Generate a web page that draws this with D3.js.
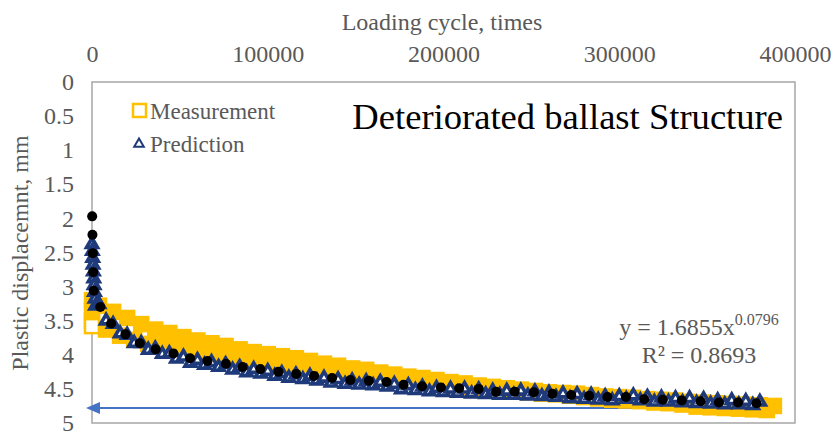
<!DOCTYPE html>
<html><head><meta charset="utf-8">
<script src="https://cdn.jsdelivr.net/npm/d3@7"></script>
<style>body{margin:0;background:#fff}svg{display:block}</style>
</head><body>
<svg id="chart" width="833" height="435"></svg>
<script>
// ---------- data ----------
const cycleTicks = [0, 100000, 200000, 300000, 400000];
const dispTicks = [0, 0.5, 1, 1.5, 2, 2.5, 3, 3.5, 4, 4.5, 5];

const measCycles = [0, 0, 0, 0,
  4000, 8000, 12000, 16000, 20000, 24000, 28000, 32000, 36000, 40000,
  44000, 48000, 52000, 56000, 60000, 64000, 68000, 72000, 76000, 80000,
  84000, 88000, 92000, 96000, 100000, 104000, 108000, 112000, 116000, 120000,
  124000, 128000, 132000, 136000, 140000, 144000, 148000, 152000, 156000, 160000,
  164000, 168000, 172000, 176000, 180000, 184000, 188000, 192000, 196000, 200000,
  204000, 208000, 212000, 216000, 220000, 224000, 228000, 232000, 236000, 240000,
  244000, 248000, 252000, 256000, 260000, 264000, 268000, 272000, 276000, 280000,
  284000, 288000, 292000, 296000, 300000, 304000, 308000, 312000, 316000, 320000,
  324000, 328000, 332000, 336000, 340000, 344000, 348000, 352000, 356000, 360000,
  364000, 368000, 372000, 376000, 380000, 384000, 388000];
const measValues = [3.20, 3.35, 3.50, 3.58,
  3.28, 3.63, 3.37, 3.72, 3.46, 3.78, 3.55, 3.84, 3.63, 3.87,
  3.68, 3.91, 3.74, 3.95, 3.79, 3.99, 3.83, 4.02, 3.87, 4.05,
  3.92, 4.08, 3.96, 4.10, 3.99, 4.13, 4.02, 4.16, 4.05, 4.18,
  4.09, 4.21, 4.13, 4.24, 4.16, 4.27, 4.20, 4.29, 4.22, 4.32,
  4.26, 4.35, 4.29, 4.37, 4.32, 4.38, 4.34, 4.40, 4.37, 4.43,
  4.40, 4.45, 4.42, 4.47, 4.45, 4.49, 4.47, 4.52, 4.49, 4.54,
  4.51, 4.55, 4.53, 4.57, 4.55, 4.58, 4.56, 4.60, 4.57, 4.62,
  4.59, 4.64, 4.61, 4.66, 4.62, 4.67, 4.63, 4.68, 4.65, 4.70,
  4.66, 4.71, 4.67, 4.73, 4.69, 4.76, 4.70, 4.77, 4.71, 4.78,
  4.72, 4.79, 4.73, 4.80, 4.74, 4.81, 4.75];

const predCycles = [0, 200, 400, 600, 800, 1000, 1200, 1400, 1700, 2000,
  4000, 8000, 12000, 16000, 20000, 24000, 28000, 32000, 36000, 40000,
  44000, 48000, 52000, 56000, 60000, 64000, 68000, 72000, 76000, 80000,
  84000, 88000, 92000, 96000, 100000, 104000, 108000, 112000, 116000, 120000,
  124000, 128000, 132000, 136000, 140000, 144000, 148000, 152000, 156000, 160000,
  164000, 168000, 172000, 176000, 180000, 184000, 188000, 192000, 196000, 200000,
  204000, 208000, 212000, 216000, 220000, 224000, 228000, 232000, 236000, 240000,
  244000, 248000, 252000, 256000, 260000, 264000, 268000, 272000, 276000, 280000,
  284000, 288000, 292000, 296000, 300000, 304000, 308000, 312000, 316000, 320000,
  324000, 328000, 332000, 336000, 340000, 344000, 348000, 352000, 356000, 360000,
  364000, 368000, 372000, 376000, 380000];
const predValues = [2.38, 2.48, 2.58, 2.68, 2.78, 2.88, 2.98, 3.08, 3.18, 3.28,
  3.26, 3.50, 3.55, 3.69, 3.71, 3.83, 3.83, 3.93, 3.91, 3.99,
  3.98, 4.06, 4.03, 4.12, 4.08, 4.15, 4.11, 4.18, 4.14, 4.22,
  4.18, 4.26, 4.21, 4.28, 4.24, 4.31, 4.27, 4.34, 4.29, 4.36,
  4.31, 4.38, 4.34, 4.41, 4.36, 4.43, 4.38, 4.44, 4.39, 4.45,
  4.40, 4.47, 4.43, 4.51, 4.45, 4.52, 4.47, 4.54, 4.49, 4.55,
  4.50, 4.56, 4.50, 4.57, 4.51, 4.58, 4.53, 4.59, 4.53, 4.59,
  4.53, 4.60, 4.54, 4.61, 4.56, 4.62, 4.57, 4.64, 4.58, 4.65,
  4.59, 4.66, 4.61, 4.67, 4.61, 4.65, 4.60, 4.67, 4.62, 4.69,
  4.63, 4.69, 4.64, 4.70, 4.64, 4.71, 4.65, 4.72, 4.67, 4.73,
  4.67, 4.73, 4.68, 4.74, 4.69];

const trendCycles = [100, 250, 450, 700, 1000,
  4700, 10900, 19000, 27200, 36200, 46300, 55800, 65700, 76200, 85700,
  95800, 106100, 116200, 126300, 136600, 147000, 157500, 167600, 177300, 187800,
  198500, 208900, 220000, 229900, 240500, 251400, 261900, 272700, 282900, 293300,
  303800, 314200, 324700, 335600, 346300, 356700, 367600, 378100];
const trendValues = [1.97, 2.24, 2.51, 2.79, 3.06,
  3.30, 3.54, 3.70, 3.83, 3.92, 3.98, 4.05, 4.09, 4.13, 4.18,
  4.21, 4.25, 4.28, 4.31, 4.34, 4.37, 4.38, 4.40, 4.44, 4.46,
  4.48, 4.49, 4.50, 4.54, 4.54, 4.55, 4.57, 4.59, 4.60, 4.62,
  4.62, 4.65, 4.66, 4.67, 4.68, 4.70, 4.70, 4.71];

const arrowFrom = [340000, 4.78];
const arrowTo = [0, 4.78];

// ---------- layout ----------
const svg = d3.select("#chart");
const L = 92, R = 795, T = 82, B = 423;
const serif = "'Liberation Serif','Times New Roman',serif";
const grey = "#595959";
const yellow = "#ffc000", navy = "#1f3a7a";

const x = d3.scaleLinear().domain([0, 400000]).range([L, R]);
const y = d3.scaleLinear().domain([0, 5]).range([T, B]);

// axes (labels only)
const xAxis = svg.append("g").attr("transform", `translate(0,${T - 17})`)
  .call(d3.axisTop(x).tickValues(cycleTicks).tickSize(0).tickFormat(d3.format("d")));
xAxis.select(".domain").remove();
xAxis.selectAll("text").attr("font-family", serif).attr("font-size", 24).attr("fill", grey).attr("dy", 0);

const yAxis = svg.append("g").attr("transform", `translate(${L - 18},0)`)
  .call(d3.axisLeft(y).tickValues(dispTicks).tickSize(0).tickFormat(d => String(d)));
yAxis.select(".domain").remove();
yAxis.selectAll("text").attr("font-family", serif).attr("font-size", 24).attr("fill", grey).attr("x", 0);

// frame
svg.append("rect").attr("x", L).attr("y", T).attr("width", R - L).attr("height", B - T)
  .attr("fill", "none").attr("stroke", "#a6a6a6").attr("stroke-width", 1.5);

// axis titles
svg.append("text").attr("x", 442).attr("y", 30).attr("text-anchor", "middle")
  .attr("font-family", serif).attr("font-size", 24).attr("fill", grey).text("Loading cycle, times");
svg.append("text").attr("transform", "translate(28,253) rotate(-90)").attr("text-anchor", "middle")
  .attr("font-family", serif).attr("font-size", 24).attr("fill", grey).text("Plastic displacemnt, mm");

// arrow
const arrowColor = "#4472c4";
svg.append("line").attr("x1", x(arrowFrom[0])).attr("y1", y(arrowFrom[1]))
  .attr("x2", x(arrowTo[0]) + 6).attr("y2", y(arrowTo[1]))
  .attr("stroke", arrowColor).attr("stroke-width", 2);
{
  const ax = x(arrowTo[0]) - 6, ay = y(arrowTo[1]);
  svg.append("path").attr("d", `M${ax},${ay} L${ax + 14},${ay - 6} L${ax + 14},${ay + 6} Z`).attr("fill", arrowColor);
}

// measurement squares
const meas = measCycles.map((c, i) => [c, measValues[i]]);
const sq = 14;
svg.append("g").selectAll("rect").data(meas).join("rect")
  .attr("x", d => x(d[0]) - sq / 2).attr("y", d => y(d[1]) - sq / 2)
  .attr("width", sq).attr("height", sq)
  .attr("fill", (d, i) => i === 3 ? "#fff" : yellow).attr("stroke", yellow).attr("stroke-width", 2.5);

// prediction triangles
const pred = predCycles.map((c, i) => [c, predValues[i]]);
const tri = d3.symbol().type(d3.symbolTriangle).size(52);
svg.append("g").selectAll("path").data(pred).join("path")
  .attr("d", tri).attr("transform", d => `translate(${x(d[0])},${y(d[1])})`)
  .attr("fill", "#ffffff").attr("stroke", navy).attr("stroke-width", 3.6);

// trend dots
const trend = trendCycles.map((c, i) => [c, trendValues[i]]);
svg.append("g").selectAll("circle").data(trend).join("circle")
  .attr("cx", d => x(d[0])).attr("cy", d => y(d[1])).attr("r", 5).attr("fill", "#000");

// legend
svg.append("rect").attr("x", 133).attr("y", 104).attr("width", 13).attr("height", 13)
  .attr("fill", "#fff").attr("stroke", yellow).attr("stroke-width", 2.5);
svg.append("text").attr("x", 150).attr("y", 119).attr("font-family", serif).attr("font-size", 23)
  .attr("fill", grey).text("Measurement");
svg.append("path").attr("d", d3.symbol().type(d3.symbolTriangle).size(40))
  .attr("transform", "translate(139,144)").attr("fill", "#fff").attr("stroke", navy).attr("stroke-width", 2);
svg.append("text").attr("x", 150).attr("y", 152).attr("font-family", serif).attr("font-size", 23)
  .attr("fill", grey).text("Prediction");

// title inside plot
svg.append("text").attr("x", 783).attr("y", 129).attr("text-anchor", "end")
  .attr("font-family", serif).attr("font-size", 36.6).attr("fill", "#000").text("Deteriorated ballast Structure");

// equation
const eq = svg.append("text").attr("x", 699).attr("y", 335).attr("text-anchor", "middle")
  .attr("font-family", serif).attr("font-size", 24).attr("fill", grey);
eq.append("tspan").text("y = 1.6855x");
eq.append("tspan").attr("dy", -10).attr("font-size", 16).text("0.0796");
svg.append("text").attr("x", 699).attr("y", 363).attr("text-anchor", "middle")
  .attr("font-family", serif).attr("font-size", 24).attr("fill", grey).text("R² = 0.8693");
</script>
</body></html>
